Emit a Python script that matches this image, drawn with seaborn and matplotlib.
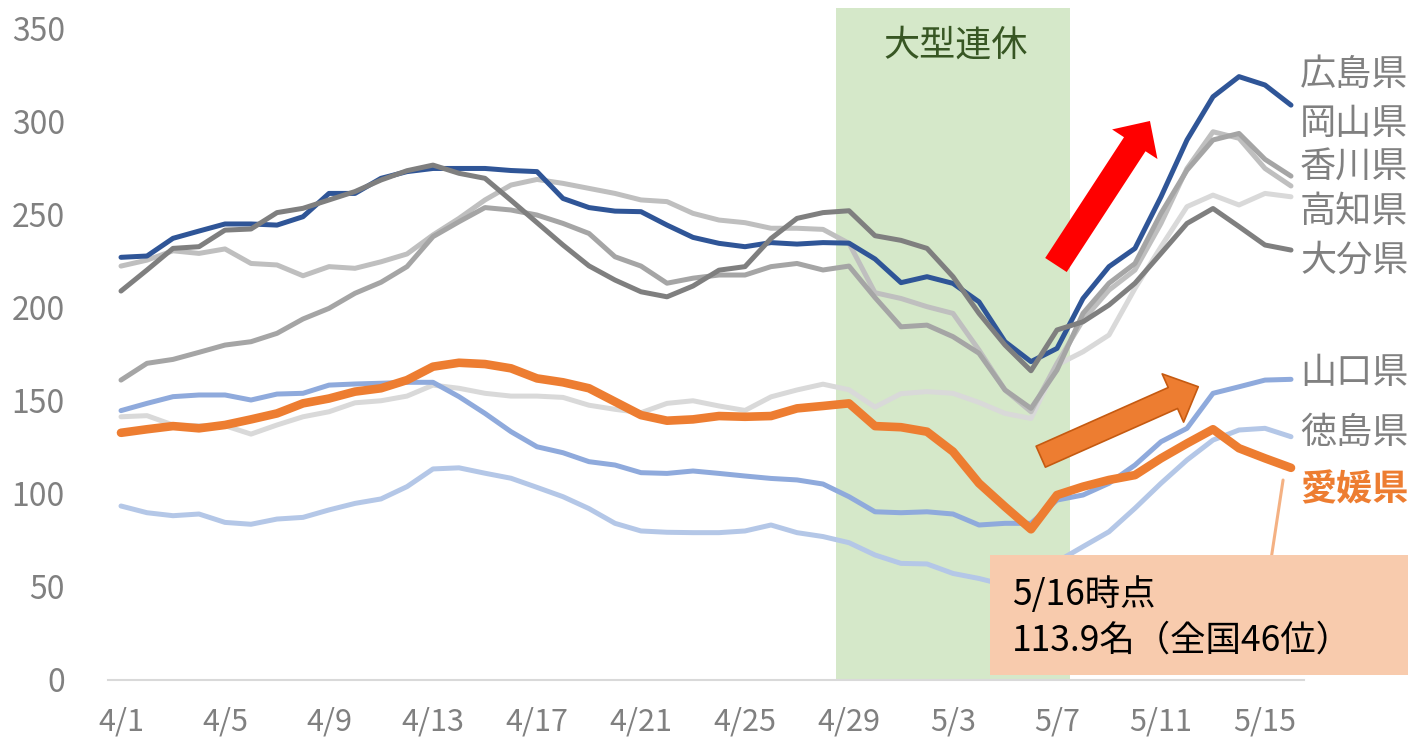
import matplotlib
matplotlib.use("Agg")
import matplotlib.pyplot as plt
import matplotlib.patches as mpatches
import numpy as np
import pandas as pd
import seaborn as sns

sns.set_theme(style="white")
plt.rcParams['font.family'] = ['Noto Sans CJK JP', 'DejaVu Sans']

# daily values 4/1 .. 5/16
days = [f"{d.month}/{d.day}" for d in pd.date_range("2021-04-01", "2021-05-16")]
tick_days = ["4/1", "4/5", "4/9", "4/13", "4/17", "4/21", "4/25", "4/29",
             "5/3", "5/7", "5/11", "5/15"]
holiday = ("4/29", "5/7")

hiroshima = [226.9, 227.6, 237.1, 241.0, 244.8, 244.8, 244.2, 248.7, 261.2, 261.2,
             269.3, 272.9, 274.6, 274.6, 274.6, 273.5, 272.9, 258.5, 253.6, 251.7,
             251.4, 244.2, 237.6, 234.4, 232.6, 234.8, 234.0, 234.8, 234.5, 226.0,
             213.3, 216.5, 212.9, 203.0, 181.6, 170.9, 178.0, 204.8, 221.9, 231.7,
             259.4, 289.9, 313.1, 323.9, 319.4, 308.6]
okayama = [161.0, 170.0, 172.1, 175.9, 179.8, 181.6, 186.1, 193.8, 199.5, 207.6,
           213.5, 221.9, 238.0, 246.0, 253.6, 252.3, 249.6, 245.1, 239.7, 227.2,
           222.2, 213.0, 215.7, 217.4, 217.4, 221.9, 223.6, 220.1, 222.2, 205.3,
           189.6, 190.5, 184.3, 175.4, 155.7, 145.8, 166.4, 196.8, 213.0, 223.6,
           250.5, 273.7, 289.9, 293.4, 279.5, 270.5]
kagawa = [222.2, 225.4, 230.4, 229.0, 231.4, 223.6, 222.8, 217.0, 221.9, 221.0,
          224.5, 228.7, 238.9, 247.8, 257.7, 265.7, 268.7, 266.6, 263.9, 261.2,
          257.7, 256.8, 250.5, 246.9, 245.5, 242.5, 242.5, 241.9, 234.4, 207.9,
          204.8, 200.4, 196.8, 177.1, 155.7, 144.0, 170.0, 193.2, 209.3, 220.1,
          245.1, 274.6, 294.3, 290.8, 274.6, 265.2]
kochi = [141.3, 141.9, 136.9, 136.5, 136.5, 132.0, 136.9, 141.3, 144.0, 148.8,
         149.9, 152.4, 158.3, 156.6, 153.9, 152.4, 152.4, 151.7, 147.5, 145.3,
         143.5, 148.5, 149.9, 147.1, 144.7, 152.0, 155.7, 158.8, 155.8, 146.5,
         153.7, 154.8, 153.9, 149.0, 143.1, 140.4, 169.1, 176.2, 185.2, 210.2,
         232.6, 254.1, 260.3, 255.0, 261.2, 259.4]
oita = [208.8, 220.1, 231.7, 232.6, 241.5, 242.1, 250.9, 253.2, 257.7, 262.2,
        268.4, 273.4, 276.4, 272.0, 269.3, 257.5, 245.5, 233.5, 222.3, 214.7,
        208.4, 205.7, 211.5, 220.0, 221.9, 237.0, 247.8, 250.9, 251.9, 238.5,
        236.0, 231.7, 216.5, 196.8, 179.8, 166.0, 187.9, 192.3, 201.3, 213.0,
        229.0, 245.1, 253.1, 243.4, 233.5, 230.8]
yamaguchi = [144.6, 148.5, 152.1, 153.0, 153.0, 150.3, 153.5, 153.9, 158.3, 158.9,
             159.3, 159.8, 159.8, 152.1, 143.1, 133.3, 125.2, 122.0, 117.2, 115.4,
             111.3, 110.9, 112.2, 110.9, 109.5, 108.2, 107.4, 105.2, 98.4, 90.3,
             89.8, 90.3, 89.1, 83.2, 84.1, 84.1, 96.6, 99.3, 105.6, 115.4,
             127.9, 135.1, 153.9, 157.4, 161.0, 161.4]
tokushima = [93.4, 89.8, 88.2, 89.1, 84.6, 83.6, 86.4, 87.3, 91.3, 94.8,
             97.2, 103.8, 113.3, 113.9, 111.0, 108.3, 103.4, 98.4, 92.0, 84.1,
             80.0, 79.3, 79.1, 79.1, 80.0, 83.2, 79.1, 77.0, 73.7, 67.1,
             62.6, 62.3, 57.2, 54.5, 51.0, 47.5, 63.5, 71.6, 79.6, 92.2,
             105.6, 118.1, 128.8, 134.2, 135.1, 130.6]
ehime = [132.7, 134.6, 136.3, 135.1, 136.9, 139.9, 143.1, 148.5, 151.1, 154.8,
         156.6, 161.0, 168.2, 170.3, 169.6, 167.3, 161.9, 159.8, 156.6, 149.4,
         142.2, 139.2, 139.9, 141.7, 141.3, 141.7, 145.8, 147.1, 148.5, 136.3,
         135.7, 133.3, 122.6, 105.6, 93.0, 80.9, 99.3, 103.8, 107.4, 110.0,
         119.0, 127.0, 134.6, 124.4, 119.0, 113.9]

series = [
    ("高知県", kochi, "#D9D9D9", 3.6),
    ("香川県", kagawa, "#BFBFBF", 3.6),
    ("岡山県", okayama, "#A5A5A5", 3.6),
    ("徳島県", tokushima, "#B4C7E7", 3.6),
    ("山口県", yamaguchi, "#8FAADC", 3.6),
    ("広島県", hiroshima, "#2F5597", 3.6),
    ("大分県", oita, "#7F7F7F", 3.6),
    ("愛媛県", ehime, "#ED7D31", 6.2),
]

fig = plt.figure(figsize=(14.13, 7.43), dpi=100)
ax = fig.add_axes([108 / 1413, 63 / 743, 1196 / 1413, 652 / 743])

x = np.arange(len(days))

# holiday band
ax.axvspan(days.index(holiday[0]) - 0.5, days.index(holiday[1]) + 0.5,
           ymin=0, ymax=1.031, color="#D5E8C9", lw=0, zorder=0, clip_on=False)

for name, vals, color, lw in series:
    sns.lineplot(x=x, y=vals, color=color, linewidth=lw, ax=ax,
                 solid_joinstyle="round", solid_capstyle="round", zorder=3)

ax.set_xlim(-0.5, len(days) - 0.5)
ax.set_ylim(0, 350)
ax.set_yticks(range(0, 351, 50))
ax.set_xticks([days.index(d) for d in tick_days])
ax.set_xticklabels(tick_days)
ax.set_xticks(np.arange(-0.5, len(days) - 1, 4), minor=True)
ax.tick_params(axis="y", length=0, pad=31, labelsize=23, labelcolor="#808080")
ax.tick_params(axis="x", which="major", length=0, pad=19, labelsize=22,
               labelcolor="#808080")
ax.tick_params(axis="x", which="minor", length=8.5, width=1.5, color="#D9D9D9",
               direction="out")
for s in ["left", "right", "top"]:
    ax.spines[s].set_visible(False)
ax.spines["bottom"].set_color("#D9D9D9")
ax.spines["bottom"].set_linewidth(1.5)
ax.set_xlabel("")
ax.set_ylabel("")
ax.grid(False)

ax.text(0.709, 0.9724, "大型連休", transform=ax.transAxes, ha="center",
        va="center", fontsize=26, color="#375623")

# prefecture labels at the right
label_pos = {"広島県": 0.928, "岡山県": 0.8528, "香川県": 0.7853, "高知県": 0.7178,
             "大分県": 0.6426, "山口県": 0.4709, "徳島県": 0.3788, "愛媛県": 0.2914}
for name, yy in label_pos.items():
    if name == "愛媛県":
        ax.text(0.9967, yy, name, transform=ax.transAxes, ha="left", va="center",
                fontsize=26, color="#ED7D31", fontweight="bold")
    else:
        ax.text(0.9967, yy, name, transform=ax.transAxes, ha="left", va="center",
                fontsize=26, color="#808080")

# arrows
ax.annotate("", xy=(0.8712, 0.8574), xytext=(0.7926, 0.6365),
            xycoords="axes fraction", textcoords="axes fraction",
            arrowprops=dict(arrowstyle="simple,head_length=20,head_width=39,tail_width=18.5",
                            mutation_scale=1, fc="#FF0000", ec="none",
                            shrinkA=0, shrinkB=0), zorder=6)
ax.annotate("", xy=(0.9116, 0.4498), xytext=(0.7799, 0.3425),
            xycoords="axes fraction", textcoords="axes fraction",
            arrowprops=dict(arrowstyle="simple,head_length=20,head_width=38,tail_width=16.5",
                            mutation_scale=1, fc="#ED7D31", ec="#C55A11", lw=1.2,
                            shrinkA=0, shrinkB=0), zorder=6)

# callout box
ax.plot([0.973, 0.9825], [0.1917, 0.3067], transform=ax.transAxes,
        color="#F4B183", lw=2.2, clip_on=False, zorder=5)
ax.add_patch(mpatches.Rectangle((0.7375, 0.0077), 0.3495, 0.184,
                                transform=ax.transAxes, fc="#F8CBAD", ec="none",
                                clip_on=False, zorder=5))
ax.text(0.7556, 0.1304, "5/16時点", transform=ax.transAxes, ha="left",
        va="center", fontsize=25.5, color="black", zorder=7)
ax.text(0.7556, 0.0598, "113.9名（全国46位）", transform=ax.transAxes, ha="left",
        va="center", fontsize=25.5, color="black", zorder=7)

fig.savefig("out.png", dpi=100)
